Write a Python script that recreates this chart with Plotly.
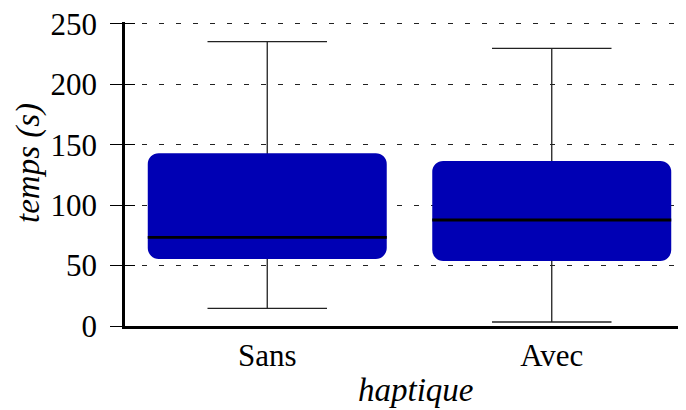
import plotly.graph_objects as go

categories = ["Sans", "Avec"]
lower_whisker = [14.6, 3.3]
q1_values = [55.5, 53.8]
median_values = [73.4, 87.7]
q3_values = [143.0, 136.6]
upper_whisker = [235.3, 229.6]
y_ticks = [0, 50, 100, 150, 200, 250]

FONT = "Liberation Serif, DejaVu Serif, Times New Roman, serif"
BLUE = "#0000b4"

fig = go.Figure()

# whiskers: drawn from the median outwards, the part inside the box is hidden by it
fig.add_trace(go.Box(
    x=categories, q1=median_values, median=median_values, q3=median_values,
    lowerfence=lower_whisker, upperfence=upper_whisker,
    width=0.6, whiskerwidth=0.7,
    line=dict(color="#222222", width=1.3), fillcolor="rgba(0,0,0,0)",
    hoverinfo="skip", showlegend=False, xaxis="x", yaxis="y"))

# rounded box q1 -> q3 (bars with a base get all corners rounded)
fig.add_trace(go.Bar(
    x=categories, base=q1_values,
    y=[q3 - q1 for q3, q1 in zip(q3_values, q1_values)],
    width=0.84, marker=dict(color=BLUE, cornerradius=11, line=dict(width=0)),
    hoverinfo="skip", showlegend=False, xaxis="x2", yaxis="y2"))

# median line
fig.add_trace(go.Box(
    x=categories, q1=median_values, median=median_values, q3=median_values,
    lowerfence=median_values, upperfence=median_values,
    width=0.84, whiskerwidth=0,
    line=dict(color="black", width=2.8), fillcolor="rgba(0,0,0,0)",
    hoverinfo="skip", showlegend=False, xaxis="x2", yaxis="y2"))

xrange = [-0.5, 1.5]
yrange = [0, 251.5]
L, T, B, W, H = 117, 14, 92, 686, 410
PW = W - L
PH = H - T - B
TICKFONT = dict(family=FONT, size=31, color="black")
TITLEFONT = dict(family=FONT, size=33, color="black")
fig.update_layout(
    width=W, height=H,
    margin=dict(l=L, r=0, t=T, b=B, autoexpand=False),
    paper_bgcolor="white", plot_bgcolor="white",
    barmode="overlay", boxmode="overlay",
    font=dict(family=FONT, size=31, color="black"),
    showlegend=False,
    xaxis=dict(type="category", categoryorder="array", categoryarray=categories,
               range=xrange, showline=True, linewidth=2.5, linecolor="black",
               ticks="", showgrid=False, zeroline=False, tickfont=TICKFONT,
               automargin=False, ticklabeloverflow="allow"),
    yaxis=dict(range=yrange, tickvals=y_ticks, ticks="outside", ticklen=12,
               tickwidth=1.3, tickcolor="black", showline=True, linewidth=2.5,
               linecolor="black", showgrid=True, gridcolor="#222222", gridwidth=1,
               griddash="5px,12px", zeroline=False, ticklabelstandoff=7,
               tickfont=TICKFONT, automargin=False, ticklabeloverflow="allow"),
    xaxis2=dict(type="category", categoryorder="array", categoryarray=categories,
                range=xrange, overlaying="x", visible=False),
    yaxis2=dict(range=yrange, tickvals=y_ticks, overlaying="y", side="left",
                ticks="inside", ticklen=10, tickwidth=1.3, tickcolor="black",
                showticklabels=False, showgrid=False, zeroline=False, showline=False),
    annotations=[
        dict(text="<i>temps (s)</i>", textangle=-90, xref="paper", yref="paper",
             x=(20 - L) / PW, y=(T + PH - 155) / PH, xanchor="center",
             yanchor="middle", showarrow=False, font=TITLEFONT),
        dict(text="<i>haptique</i>", xref="paper", yref="paper",
             x=(407 - L) / PW, y=(T + PH - 382) / PH, xanchor="center",
             yanchor="middle", showarrow=False, font=TITLEFONT),
    ],
)

fig.write_html("out.html")
